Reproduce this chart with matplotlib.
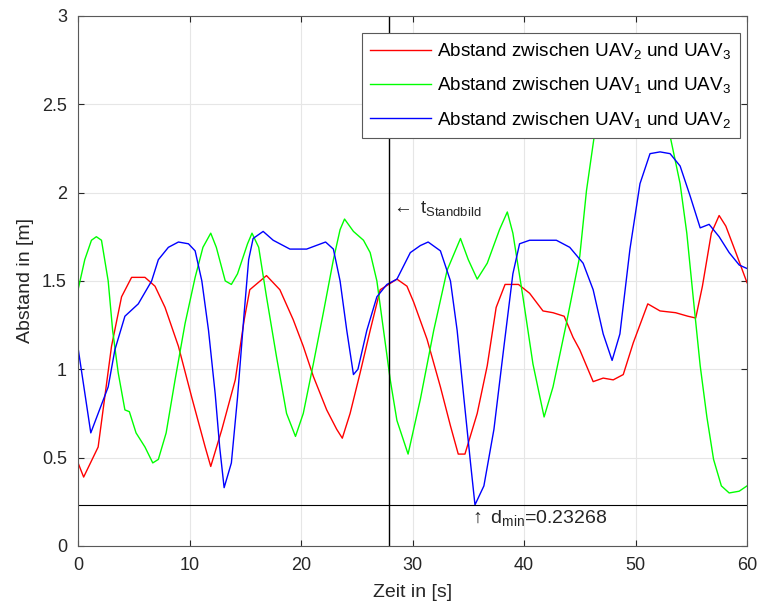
import numpy as np
import matplotlib
matplotlib.use("Agg")
import matplotlib.pyplot as plt

# -------------------------------------------------------------------- DATA
# Abstand zwischen UAV2 und UAV3
T_23 = [0, 0.5, 1.8, 3.0, 3.9, 4.8, 6.0, 6.9, 7.8, 9.0, 10.2, 11.4, 11.9, 12.9, 14.1, 14.9,
        15.4, 16.9, 18.1, 19.3, 20.2, 21.1, 22.3, 23.2, 23.7, 24.4, 25.3, 26.2, 27.1, 28.6,
        29.5, 30.1, 31.3, 32.5, 33.4, 34.1, 34.7, 35.8, 36.7, 37.5, 38.3, 39.5, 40.5, 41.7,
        42.6, 43.6, 44.4, 45.0, 46.2, 47.1, 48.0, 48.9, 49.8, 51.1, 52.2, 53.6, 54.7, 55.4,
        56.0, 56.8, 57.5, 58.1, 59.0, 60.0]
D_23 = [0.47, 0.39, 0.56, 1.13, 1.41, 1.52, 1.52, 1.47, 1.35, 1.13, 0.84, 0.56, 0.45, 0.66,
        0.94, 1.28, 1.45, 1.53, 1.45, 1.28, 1.13, 0.96, 0.77, 0.66, 0.61, 0.75, 0.98, 1.22,
        1.45, 1.51, 1.47, 1.38, 1.17, 0.90, 0.68, 0.52, 0.52, 0.75, 1.02, 1.35, 1.48, 1.48,
        1.43, 1.33, 1.32, 1.30, 1.18, 1.11, 0.93, 0.95, 0.94, 0.97, 1.15, 1.37, 1.33, 1.32,
        1.30, 1.29, 1.47, 1.77, 1.87, 1.81, 1.66, 1.49]

# Abstand zwischen UAV1 und UAV3
T_13 = [0, 0.6, 1.2, 1.64, 2.1, 2.7, 3.1, 3.6, 4.2, 4.6, 5.2, 6.0, 6.7, 7.2, 7.9, 8.7, 9.6,
        10.5, 11.2, 11.9, 12.4, 13.2, 13.75, 14.3, 15.2, 15.6, 16.2, 16.9, 17.8, 18.7, 19.5,
        20.2, 21.1, 22.0, 22.9, 23.5, 23.9, 24.7, 25.6, 26.2, 26.8, 27.4, 28.0, 28.6, 29.6,
        30.7, 31.9, 33.1, 34.3, 35.0, 35.8, 36.7, 37.8, 38.5, 39.0, 39.9, 40.8, 41.8, 42.6,
        43.8, 45.0, 45.6, 46.3, 47.5, 49.0, 50.5, 52.0, 53.1, 54.0, 54.6, 55.2, 55.8, 56.4,
        57.0, 57.7, 58.4, 59.3, 60.0]
D_13 = [1.45, 1.62, 1.73, 1.75, 1.73, 1.50, 1.22, 0.98, 0.77, 0.76, 0.64, 0.56, 0.47, 0.49,
        0.64, 0.94, 1.26, 1.52, 1.69, 1.77, 1.69, 1.50, 1.48, 1.54, 1.71, 1.77, 1.69, 1.41,
        1.07, 0.75, 0.62, 0.75, 1.03, 1.32, 1.62, 1.79, 1.85, 1.78, 1.73, 1.66, 1.50, 1.22,
        0.94, 0.71, 0.52, 0.83, 1.22, 1.56, 1.74, 1.62, 1.51, 1.60, 1.79, 1.89, 1.77, 1.41,
        1.03, 0.73, 0.90, 1.26, 1.64, 2.01, 2.32, 2.60, 2.80, 2.80, 2.60, 2.32, 2.05, 1.77,
        1.39, 1.02, 0.73, 0.49, 0.34, 0.30, 0.31, 0.34]

# Abstand zwischen UAV1 und UAV2
T_12 = [0, 1.14, 2.7, 3.3, 4.2, 5.4, 6.6, 7.2, 8.1, 9.0, 9.9, 10.5, 11.1, 11.7, 12.3, 12.7,
        13.1, 13.75, 14.3, 14.9, 15.3, 15.7, 16.6, 17.5, 19.0, 20.5, 22.2, 22.9, 23.5, 24.1,
        24.7, 25.1, 25.9, 26.8, 27.7, 28.6, 29.8, 30.7, 31.4, 32.5, 33.4, 34.0, 34.6, 35.2,
        35.6, 36.4, 37.3, 38.2, 39.0, 39.6, 40.5, 41.7, 42.9, 44.1, 45.3, 46.2, 47.1, 47.9,
        48.6, 49.5, 50.4, 51.3, 52.2, 53.1, 54.0, 54.9, 55.8, 56.6, 57.5, 58.4, 59.3, 60.0]
D_12 = [1.12, 0.64, 0.90, 1.11, 1.30, 1.37, 1.50, 1.62, 1.69, 1.72, 1.71, 1.67, 1.50, 1.22,
        0.86, 0.56, 0.33, 0.47, 0.84, 1.32, 1.62, 1.74, 1.78, 1.73, 1.68, 1.68, 1.72, 1.68,
        1.50, 1.22, 0.97, 1.00, 1.22, 1.41, 1.48, 1.51, 1.66, 1.70, 1.72, 1.67, 1.50, 1.22,
        0.84, 0.47, 0.23268, 0.34, 0.66, 1.13, 1.54, 1.71, 1.73, 1.73, 1.73, 1.69, 1.60,
        1.45, 1.20, 1.05, 1.20, 1.68, 2.05, 2.22, 2.23, 2.22, 2.15, 1.98, 1.80, 1.82, 1.75,
        1.66, 1.59, 1.57]

LABELS = ["Abstand zwischen UAV$_2$ und UAV$_3$",
          "Abstand zwischen UAV$_1$ und UAV$_3$",
          "Abstand zwischen UAV$_1$ und UAV$_2$"]

T_STANDBILD = 27.9
D_MIN = 0.23268
T_DMIN = 35.6

# -------------------------------------------------------------------- STYLE
plt.rcParams["font.family"] = ["Liberation Sans", "DejaVu Sans"]
plt.rcParams["mathtext.fontset"] = "custom"
plt.rcParams["mathtext.rm"] = "Liberation Sans"
plt.rcParams["mathtext.it"] = "Liberation Sans"
plt.rcParams["mathtext.default"] = "regular"

fig = plt.figure(figsize=(7.58, 6.08), dpi=100)
ax = fig.add_axes([0.103, 0.102, 0.8825, 0.872])

ax.plot(T_23, D_23, color="red", lw=1.0, label=LABELS[0])
ax.plot(T_13, D_13, color="#00ff00", lw=1.0, label=LABELS[1])
ax.plot(T_12, D_12, color="blue", lw=1.0, label=LABELS[2])

# Standbild-Zeitpunkt und Minimalabstand
ax.axvline(T_STANDBILD, color="black", lw=1.0)
ax.axhline(D_MIN, color="black", lw=0.8)
ax.text(T_STANDBILD + 0.1, 1.91, r"$\leftarrow$ t$_{Standbild}$", fontsize=13.5,
        ha="left", va="center", color="#262626")
ax.text(T_DMIN - 0.5, D_MIN - 0.02, r"$\uparrow$ d$_{min}$=%.5f" % D_MIN, fontsize=14,
        ha="left", va="top", color="#262626")

ax.set_xlim(0, 60)
ax.set_ylim(0, 3)
ax.set_xticks(np.arange(0, 61, 10))
ax.set_yticks(np.arange(0, 3.01, 0.5))
ax.set_yticklabels(["0", "0.5", "1", "1.5", "2", "2.5", "3"])
ax.grid(True, color="0.9", lw=0.8)
ax.set_axisbelow(True)
ax.tick_params(direction="in", top=True, right=True, labelsize=13, colors="#262626",
               length=4, pad=8)
for s in ax.spines.values():
    s.set_color("0.35")

ax.set_xlabel("Zeit in [s]", fontsize=14, color="#262626", labelpad=7)
ax.set_ylabel("Abstand in [m]", fontsize=14, color="#262626", labelpad=6)

leg = ax.legend(loc="upper right", bbox_to_anchor=(0.9895, 0.968), borderaxespad=0,
                fontsize=13.6, fancybox=False, framealpha=1, edgecolor="0.35",
                handlelength=3.2, labelspacing=0.75, handletextpad=0.35,
                borderpad=0.45)
leg.get_frame().set_linewidth(0.8)

fig.savefig("out.png", dpi=100)
